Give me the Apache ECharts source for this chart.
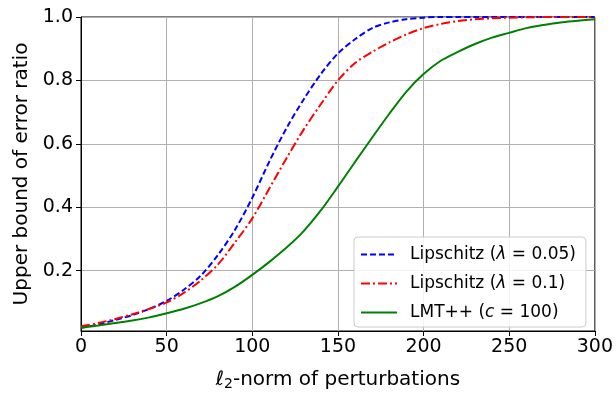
<!DOCTYPE html>
<html>
<head>
<meta charset="utf-8">
<script src="https://cdn.jsdelivr.net/npm/echarts@6/dist/echarts.min.js"></script>
<style>
  html, body { margin: 0; padding: 0; background: #fff; }
  #chart { width: 616px; height: 396px; }
</style>
</head>
<body>
<div id="chart"></div>
<script>
// perturbation norms (x) and upper bounds
const xs = [0, 10, 20, 30, 40, 50, 60, 70, 80, 90, 100, 110, 120, 130, 140, 150,
  160, 170, 180, 190, 200, 210, 220, 230, 240, 250, 260, 270, 280, 290, 300]
const lip005 = [0.02, 0.03, 0.045, 0.06, 0.08, 0.105, 0.14, 0.185, 0.25, 0.33, 0.43,
  0.545, 0.65, 0.74, 0.82, 0.885, 0.93, 0.965, 0.983, 0.993, 0.998, 1, 1, 1, 1, 1, 1, 1, 1, 1, 1]
const lip01 = [0.025, 0.035, 0.048, 0.063, 0.08, 0.1, 0.13, 0.17, 0.22, 0.29, 0.365,
  0.46, 0.555, 0.645, 0.725, 0.8, 0.855, 0.89, 0.92, 0.945, 0.965, 0.978, 0.987, 0.993,
  0.996, 0.998, 0.999, 1, 1, 1, 1]
const lmt = [0.02, 0.027, 0.035, 0.043, 0.053, 0.066, 0.08, 0.098, 0.12, 0.15, 0.187,
  0.228, 0.273, 0.325, 0.39, 0.465, 0.543, 0.62, 0.695, 0.765, 0.82, 0.862, 0.89, 0.915,
  0.935, 0.95, 0.965, 0.975, 0.983, 0.988, 0.993]
const yTicks = [0.2, 0.4, 0.6, 0.8, 1.0]
const seriesNames = ['Lipschitz (λ = 0.05)', 'Lipschitz (λ = 0.1)', 'LMT++ (c = 100)']

const font = 'DejaVu Sans'
const pairs = ys => xs.map((x, i) => [x, ys[i]])

const chart = echarts.init(document.getElementById('chart'))

const option = {
  animation: false,
  textStyle: { fontFamily: font },
  grid: {
    left: 81, right: 21, top: 17, bottom: 62,
    show: true, borderColor: '#000', borderWidth: 1
  },
  xAxis: {
    type: 'value',
    min: 0, max: 300, interval: 50,
    name: '{l|ℓ}{s|2}-norm of perturbations',
    nameLocation: 'middle',
    nameGap: 37,
    nameTextStyle: {
      fontSize: 20, color: '#000',
      rich: {
        l: { fontSize: 20, fontStyle: 'italic', fontFamily: font },
        s: { fontSize: 14, verticalAlign: 'bottom', padding: [9, 0, 0, 0], fontFamily: font }
      }
    },
    axisLine: { lineStyle: { color: '#000', width: 1 } },
    axisTick: { length: 5, lineStyle: { color: '#000' } },
    axisLabel: { fontSize: 19, color: '#000', margin: 7 },
    splitLine: { show: true, lineStyle: { color: '#b0b0b0', width: 1 } }
  },
  yAxis: {
    type: 'value',
    min: 0.01, max: 1.0,
    name: 'Upper bound of error ratio',
    nameLocation: 'middle',
    nameGap: 49,
    nameTextStyle: { fontSize: 20, color: '#000' },
    axisLine: { show: true, lineStyle: { color: '#000', width: 1 } },
    axisTick: { show: true, length: 5, lineStyle: { color: '#000' }, customValues: yTicks },
    axisLabel: {
      fontSize: 19, color: '#000', margin: 8,
      customValues: yTicks,
      formatter: v => v.toFixed(1)
    },
    splitLine: { show: true, lineStyle: { color: '#b0b0b0', width: 1 } }
  },
  legend: {
    orient: 'vertical',
    left: 354, top: 237,
    padding: [9, 10, 6, 6],
    itemGap: 12,
    itemWidth: 36, itemHeight: 18,
    backgroundColor: 'rgba(255,255,255,0.85)',
    borderColor: '#cccccc', borderWidth: 1, borderRadius: 4,
    itemStyle: { opacity: 0 },
    textStyle: {
      fontSize: 17, color: '#000', fontFamily: font, padding: [0, 0, 0, 8],
      rich: { i: { fontSize: 17, fontStyle: 'italic', fontFamily: font } }
    },
    formatter: name => {
      if (name === seriesNames[0]) return 'Lipschitz ({i|λ} = 0.05)'
      if (name === seriesNames[1]) return 'Lipschitz ({i|λ} = 0.1)'
      return 'LMT++ ({i|c} = 100)'
    },
    data: seriesNames
  },
  series: [
    {
      name: seriesNames[0], type: 'line', data: pairs(lip005), symbol: 'none', smooth: 0.3,
      itemStyle: { color: '#0000ff' },
      lineStyle: { color: '#0000ff', width: 2, type: [6, 3] }
    },
    {
      name: seriesNames[1], type: 'line', data: pairs(lip01), symbol: 'none', smooth: 0.3,
      itemStyle: { color: '#ff0000' },
      lineStyle: { color: '#ff0000', width: 2, type: [9, 3, 2, 3] }
    },
    {
      name: seriesNames[2], type: 'line', data: pairs(lmt), symbol: 'none', smooth: 0.3,
      itemStyle: { color: '#008000' },
      lineStyle: { color: '#008000', width: 2 }
    }
  ]
}

chart.setOption(option)
</script>
</body>
</html>
